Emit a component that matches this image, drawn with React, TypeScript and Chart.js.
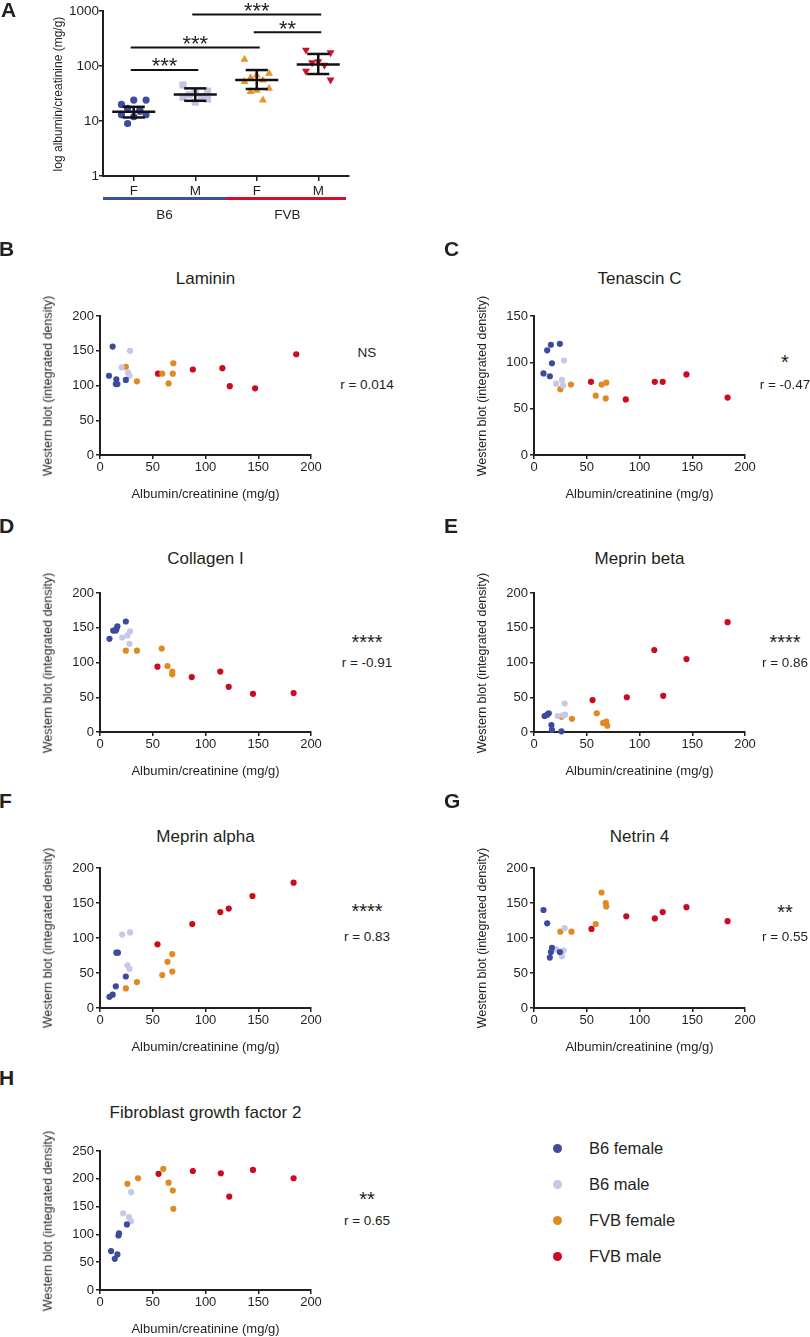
import React, { useEffect, useRef } from 'react';
import { Chart, registerables } from 'chart.js';

Chart.register(...registerables);

const FONT = '"Liberation Sans", Arial, Helvetica, sans-serif';
const INK = '#231f20';

// ---------------- groups ----------------
const groupNames = ['B6 female', 'B6 male', 'FVB female', 'FVB male'];
const groupColors = ['#3d4a9e', '#c7c7e7', '#e08a24', '#cc0b1f'];
const groupColorsA = ['#3c4ca2', '#c3c3e3', '#e8952c', '#d0102a'];
const strainColors = ['#3d4ea6', '#d0102c'];

// ---------------- panel A ----------------
const sexLabels = ['F', 'M', 'F', 'M'];
const strainLabels = ['B6', 'FVB'];
const logTicks = [1, 10, 100, 1000];
const acrB6F = [20, 24, 24, 17, 16, 13, 13, 12, 9, 15];
const acrB6M = [45, 35, 32, 30, 28, 27, 25, 22];
const acrFvbF = [132, 73, 68, 61, 55, 52, 39, 36, 34, 24];
const acrFvbM = [196, 175, 120, 115, 104, 81, 56];
const acrMean = [14.7, 30.4, 55.6, 107];
const acrSdLow = [11.6, 23.3, 38.2, 71.5];
const acrSdHigh = [18.1, 39.2, 84.4, 165.6];
const sigFrom = [0, 0, 2, 1];
const sigTo = [1, 2, 3, 3];
const sigLevel = [85, 216, 411, 863];
const sigStars = ['***', '***', '**', '***'];

// ---------------- scatter panels (albumin/creatinine, western blot) ----------------
type Pt = [number, number];
const xAxisTitle = 'Albumin/creatinine (mg/g)';
const yAxisTitle = 'Western blot (integrated density)';
const xTickStep = 50;

const lamininB6F: Pt[] = [[8.5, 114], [12, 156], [15.5, 109], [15, 102], [16.5, 102], [24.5, 108]];
const lamininB6M: Pt[] = [[20.5, 126], [28.5, 150], [26.5, 119], [28, 114]];
const lamininFvbF: Pt[] = [[24.5, 127], [35, 106], [59, 117], [65, 103], [69, 117], [69.5, 132]];
const lamininFvbM: Pt[] = [[55, 117], [88, 123], [116, 125], [123, 99], [147, 96], [186, 145]];

const tenascinB6F: Pt[] = [[9, 88], [12.5, 113], [16, 119], [17, 99], [15, 85], [24.5, 120]];
const tenascinB6M: Pt[] = [[21, 77], [26.5, 81], [27.5, 75], [28.5, 102]];
const tenascinFvbF: Pt[] = [[25, 71], [35, 76], [58.5, 64], [64, 76], [68.5, 78], [68, 61]];
const tenascinFvbM: Pt[] = [[54, 79], [87, 60], [114.5, 79], [122, 79], [144.5, 87], [183.5, 62]];

const collagenB6F: Pt[] = [[9, 134], [12.5, 146], [15, 146], [16.5, 152], [15.5, 148], [24.5, 159]];
const collagenB6M: Pt[] = [[21, 136], [26, 139], [28.5, 145], [28, 127]];
const collagenFvbF: Pt[] = [[24.5, 117], [35, 117], [58.5, 120], [64, 95], [68.5, 87], [68.5, 83]];
const collagenFvbM: Pt[] = [[54.5, 94], [87, 79], [114, 87], [122, 65], [145, 55], [183.5, 56]];

const meprinBB6F: Pt[] = [[10, 23], [12.5, 25], [14, 27], [16.5, 10], [17, 3], [26, 1]];
const meprinBB6M: Pt[] = [[22.5, 23], [27.5, 24], [29.5, 25], [29, 41]];
const meprinBFvbF: Pt[] = [[26, 22], [36, 19], [59.5, 27], [65.5, 13], [68.5, 15], [69.5, 9]];
const meprinBFvbM: Pt[] = [[55.5, 46], [88, 50], [114, 118], [122.5, 52], [144.5, 105], [183.5, 158]];

const meprinAB6F: Pt[] = [[15.5, 79], [17, 79], [24.5, 45], [15, 31], [12, 19], [9, 16]];
const meprinAB6M: Pt[] = [[21, 105], [28.5, 108], [26, 61], [28, 56]];
const meprinAFvbF: Pt[] = [[24.5, 28], [35, 37], [59, 47], [64, 66], [68.5, 77], [68.5, 52]];
const meprinAFvbM: Pt[] = [[54.5, 91], [87.5, 120], [114, 137], [122, 142], [144.5, 160], [183.5, 179]];

const netrinB6F: Pt[] = [[9, 140], [12.5, 121], [17, 86], [16, 80], [15, 72], [24.5, 80]];
const netrinB6M: Pt[] = [[21, 84], [26.5, 74], [28, 82], [29, 114]];
const netrinFvbF: Pt[] = [[25, 109], [35.5, 109], [58.5, 120], [64, 165], [68, 150], [68.5, 145]];
const netrinFvbM: Pt[] = [[54.5, 113], [87.5, 131], [114.5, 128], [122, 137], [144.5, 144], [183.5, 124]];

const fgf2B6F: Pt[] = [[10.5, 70], [14, 56], [16.5, 64], [17.5, 98], [18, 102], [25.5, 118]];
const fgf2B6M: Pt[] = [[22, 138], [27.5, 131], [29.5, 124], [29.5, 176]];
const fgf2FvbF: Pt[] = [[26, 191], [36, 201], [60, 218], [65, 193], [69, 179], [69.5, 146]];
const fgf2FvbM: Pt[] = [[55.5, 209], [88, 214], [114.5, 210], [122.5, 168], [145, 216], [183.5, 201]];

// ---------------- layout ----------------
interface PanelDef {
  letter: string;
  title: string;
  col: number;
  plotTop: number;
  plotBottom: number;
  yMax: number;
  groups: Pt[][];
  sig: string;
  r: string;
  isStars: boolean;
  letterY: number;
  titleY: number;
  sigY: number;
  rY: number;
}

const COL_X = [0, 434];
const LETTER_X = [-1, 444];
const TITLE_X = [205.5, 639.5];
const STAT_X = [367, 785];
const YTITLE_DX = 48;
const AXIS_OFFSET = 100;
const PLOT_W = 211;
const CANVAS_W = 330;
const PAD_TOP = 12;
const X_BOX_H = 47;

const panels: PanelDef[] = [
  { letter: 'B', title: 'Laminin', col: 0, plotTop: 316, plotBottom: 455, yMax: 200,
    groups: [lamininB6F, lamininB6M, lamininFvbF, lamininFvbM], sig: 'NS', r: 'r = 0.014', isStars: false,
    letterY: 248, titleY: 278, sigY: 353, rY: 385 },
  { letter: 'C', title: 'Tenascin C', col: 1, plotTop: 316, plotBottom: 455, yMax: 150,
    groups: [tenascinB6F, tenascinB6M, tenascinFvbF, tenascinFvbM], sig: '*', r: 'r = -0.47', isStars: true,
    letterY: 248, titleY: 278, sigY: 358, rY: 385 },
  { letter: 'D', title: 'Collagen I', col: 0, plotTop: 593, plotBottom: 732, yMax: 200,
    groups: [collagenB6F, collagenB6M, collagenFvbF, collagenFvbM], sig: '****', r: 'r = -0.91', isStars: true,
    letterY: 525, titleY: 558, sigY: 638, rY: 663 },
  { letter: 'E', title: 'Meprin beta', col: 1, plotTop: 593, plotBottom: 732, yMax: 200,
    groups: [meprinBB6F, meprinBB6M, meprinBFvbF, meprinBFvbM], sig: '****', r: 'r = 0.86', isStars: true,
    letterY: 525, titleY: 558, sigY: 638, rY: 663 },
  { letter: 'F', title: 'Meprin alpha', col: 0, plotTop: 868, plotBottom: 1008, yMax: 200,
    groups: [meprinAB6F, meprinAB6M, meprinAFvbF, meprinAFvbM], sig: '****', r: 'r = 0.83', isStars: true,
    letterY: 800, titleY: 836, sigY: 907, rY: 937 },
  { letter: 'G', title: 'Netrin 4', col: 1, plotTop: 868, plotBottom: 1008, yMax: 200,
    groups: [netrinB6F, netrinB6M, netrinFvbF, netrinFvbM], sig: '**', r: 'r = 0.55', isStars: true,
    letterY: 800, titleY: 836, sigY: 908, rY: 937 },
  { letter: 'H', title: 'Fibroblast growth factor 2', col: 0, plotTop: 1151, plotBottom: 1290, yMax: 250,
    groups: [fgf2B6F, fgf2B6M, fgf2FvbF, fgf2FvbM], sig: '**', r: 'r = 0.65', isStars: true,
    letterY: 1077, titleY: 1112, sigY: 1195, rY: 1221 },
];

const legendY = [1148, 1184, 1220, 1256];
const jitter = [-0.2, 0.2, 0, -0.1, 0.1, -0.2, 0.2, 0, -0.1, 0.1];

// ---------------- chart configs ----------------
const tickFont = (size: number) => ({ family: FONT, size });

function axisCommon(tickLength: number) {
  return {
    grid: { display: true, drawOnChartArea: false, drawTicks: true, tickLength, color: INK, lineWidth: 1.5 },
    border: { display: true, color: INK, width: 2 },
  };
}

function scatterConfig(p: PanelDef): any {
  return {
    type: 'scatter',
    data: {
      datasets: p.groups.map((pts, gi) => ({
        label: groupNames[gi],
        data: pts.map(([x, y]) => ({ x, y })),
        backgroundColor: groupColors[gi],
        borderColor: groupColors[gi],
        borderWidth: 0,
        pointRadius: 3.1,
        pointHoverRadius: 3.1,
        clip: false,
      })),
    },
    options: {
      responsive: false,
      animation: false,
      events: [],
      layout: { padding: { top: PAD_TOP, right: CANVAS_W - AXIS_OFFSET - PLOT_W, bottom: 0, left: 0 } },
      plugins: { legend: { display: false }, tooltip: { enabled: false } },
      scales: {
        x: {
          type: 'linear', min: 0, max: 200,
          ticks: { stepSize: xTickStep, color: INK, font: tickFont(13), padding: 1, maxRotation: 0 },
          ...axisCommon(4),
          title: { display: true, text: xAxisTitle, color: INK, font: tickFont(13), padding: 0 },
          afterFit: (s: any) => { s.height = X_BOX_H; },
        },
        y: {
          type: 'linear', min: 0, max: p.yMax,
          ticks: { stepSize: 50, color: INK, font: tickFont(13), padding: 2 },
          ...axisCommon(4),
          afterFit: (s: any) => { s.width = AXIS_OFFSET; },
        },
      },
    },
  };
}

const summaryPlugin = {
  id: 'summaryA',
  afterDatasetsDraw(chart: any) {
    const { ctx } = chart;
    const x = chart.scales.x;
    const y = chart.scales.y;
    const step = x.getPixelForValue(1) - x.getPixelForValue(0);
    const seg = (x1: number, y1: number, x2: number, y2: number) => {
      ctx.beginPath(); ctx.moveTo(x1, y1); ctx.lineTo(x2, y2); ctx.stroke();
    };
    ctx.save();
    ctx.strokeStyle = '#111';
    ctx.lineCap = 'butt';
    ctx.lineWidth = 2.5;
    acrMean.forEach((m, i) => {
      const cx = x.getPixelForValue(i);
      const ym = y.getPixelForValue(m);
      const yl = y.getPixelForValue(acrSdLow[i]);
      const yh = y.getPixelForValue(acrSdHigh[i]);
      seg(cx - step * 0.35, ym, cx + step * 0.35, ym);
      seg(cx, yl, cx, yh);
      seg(cx - step * 0.18, yl, cx + step * 0.18, yl);
      seg(cx - step * 0.18, yh, cx + step * 0.18, yh);
    });
    ctx.lineWidth = 2;
    ctx.fillStyle = INK;
    ctx.font = `22px ${FONT}`;
    ctx.textAlign = 'center';
    ctx.textBaseline = 'alphabetic';
    sigLevel.forEach((lv, i) => {
      const x1 = x.getPixelForValue(sigFrom[i]) - 3;
      const x2 = x.getPixelForValue(sigTo[i]) + 3;
      const yy = y.getPixelForValue(lv);
      seg(x1, yy, x2, yy);
      ctx.fillText(sigStars[i], (x1 + x2) / 2, yy + 3.5);
    });
    const yb = x.top + 22.5;
    const mid = x.getPixelForValue(1.5);
    ctx.lineWidth = 3;
    ctx.strokeStyle = strainColors[0];
    seg(x.left, yb, mid, yb);
    ctx.strokeStyle = strainColors[1];
    seg(mid, yb, x.right - 3, yb);
    ctx.font = `13.5px ${FONT}`;
    ctx.textBaseline = 'middle';
    ctx.fillText(strainLabels[0], x.getPixelForValue(0.5), x.top + 39);
    ctx.fillText(strainLabels[1], x.getPixelForValue(2.5), x.top + 39);
    ctx.restore();
  },
};

function panelAConfig(): any {
  const groups = [acrB6F, acrB6M, acrFvbF, acrFvbM];
  const shapes = ['circle', 'rect', 'triangle', 'triangle'];
  const rotations = [0, 0, 0, 180];
  const radii = [3.6, 5, 4.6, 4.6];
  return {
    type: 'scatter',
    data: {
      datasets: groups.map((vals, gi) => ({
        label: groupNames[gi],
        data: vals.map((v, i) => ({ x: gi + jitter[i % jitter.length], y: v })),
        pointStyle: shapes[gi],
        pointRotation: rotations[gi],
        pointRadius: radii[gi],
        pointHoverRadius: radii[gi],
        backgroundColor: groupColorsA[gi],
        borderColor: groupColorsA[gi],
        borderWidth: 0,
        clip: false,
      })),
    },
    options: {
      responsive: false,
      animation: false,
      events: [],
      layout: { padding: { top: 11, right: 11, bottom: 0, left: 0 } },
      plugins: { legend: { display: false }, tooltip: { enabled: false } },
      scales: {
        x: {
          type: 'linear', min: -0.5, max: 3.5,
          afterBuildTicks: (s: any) => { s.ticks = sexLabels.map((_, i) => ({ value: i })); },
          ticks: { autoSkip: false, color: INK, font: tickFont(13.5), padding: 2, maxRotation: 0,
            callback: (_v: any, i: number) => sexLabels[i] },
          ...axisCommon(5),
          afterFit: (s: any) => { s.height = 56; },
        },
        y: {
          type: 'logarithmic', min: 1, max: 1000,
          afterBuildTicks: (s: any) => { s.ticks = logTicks.map((v) => ({ value: v })); },
          ticks: { autoSkip: false, color: INK, font: tickFont(13.5), padding: 0,
            callback: (_v: any, i: number) => String(logTicks[i]) },
          ...axisCommon(4),
          afterFit: (s: any) => { s.width = 103; },
        },
      },
    },
    plugins: [summaryPlugin],
  };
}

// ---------------- components ----------------
function ChartCanvas({ left, top, width, height, make }: { left: number; top: number; width: number; height: number; make: () => any }) {
  const ref = useRef<HTMLCanvasElement | null>(null);
  useEffect(() => {
    if (!ref.current) return;
    const chart = new Chart(ref.current, make());
    return () => chart.destroy();
  }, []);
  return (
    <canvas ref={ref} width={width} height={height}
      style={{ position: 'absolute', left, top, width, height, display: 'block' }} />
  );
}

function T({ x, y, size, bold, start, rotate, children }: { x: number; y: number; size: number; bold?: boolean; start?: boolean; rotate?: boolean; children: any }) {
  return (
    <div style={{
      position: 'absolute', left: x, top: y,
      transform: rotate ? 'translate(-50%,-50%) rotate(-90deg)' : start ? 'translate(0,-50%)' : 'translate(-50%,-50%)',
      fontSize: size, fontFamily: FONT, fontWeight: bold ? 700 : 400,
      lineHeight: 1, whiteSpace: 'nowrap', color: INK,
    }}>{children}</div>
  );
}

function ScatterPanel({ p }: { p: PanelDef }) {
  const h = PAD_TOP + (p.plotBottom - p.plotTop) + X_BOX_H;
  return (
    <>
      <ChartCanvas left={COL_X[p.col]} top={p.plotTop - PAD_TOP} width={CANVAS_W} height={h} make={() => scatterConfig(p)} />
      <T x={COL_X[p.col] + YTITLE_DX} y={(p.plotTop + p.plotBottom) / 2} size={12.5} rotate>{yAxisTitle}</T>
      <T x={LETTER_X[p.col]} y={p.letterY} size={21} bold start>{p.letter}</T>
      <T x={TITLE_X[p.col]} y={p.titleY} size={17}>{p.title}</T>
      <T x={STAT_X[p.col]} y={p.sigY + (p.isStars ? 4 : 0)} size={p.isStars ? 20 : 13.5}>{p.sig}</T>
      <T x={STAT_X[p.col]} y={p.rY} size={13.5}>{p.r}</T>
    </>
  );
}

export default function App() {
  return (
    <div style={{ position: 'absolute', left: 0, top: 0, width: 810, height: 1337, overflow: 'hidden', background: '#fff' }}>
      <ChartCanvas left={0} top={0} width={360} height={232} make={panelAConfig} />
      <T x={58} y={93.5} size={12} rotate>log albumin/creatinine (mg/g)</T>
      <T x={1} y={9} size={21} bold start>A</T>
      {panels.map((p) => <ScatterPanel key={p.letter} p={p} />)}
      {groupNames.map((g, i) => (
        <React.Fragment key={g}>
          <div style={{ position: 'absolute', left: 557 - 4.5, top: legendY[i] - 4.5, width: 9, height: 9, borderRadius: '50%', background: groupColors[i] }} />
          <T x={589} y={legendY[i]} size={16.5} start>{g}</T>
        </React.Fragment>
      ))}
    </div>
  );
}
